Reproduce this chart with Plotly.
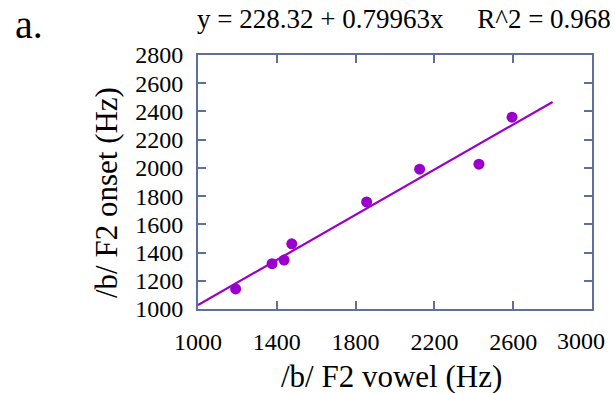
import plotly.graph_objects as go

# /b/ F2 at vowel midpoint vs. F2 at onset (Hz)
f2_vowel = [1191, 1376, 1437, 1476, 1856, 2125, 2426, 2594]
f2_onset = [1142, 1321, 1347, 1462, 1759, 1991, 2026, 2359]

# fitted locus equation
intercept = 228.32
slope = 0.79963
r_squared = 0.968
fit_x = [1000, 2800]
fit_y = [intercept + slope * v for v in fit_x]

x_ticks = [1000, 1400, 1800, 2200, 2600, 3000]
x_tick_text = ["1000", "1400", "1800", "2200", "2600", ""]
x_last_label = "3000"  # pulled inward so it stays on the page
y_ticks = [1000, 1200, 1400, 1600, 1800, 2000, 2200, 2400, 2600, 2800]

purple = "#9a00cc"
frame = "#5d6f9b"
serif = "Liberation Serif, Times New Roman, serif"

fig = go.Figure()
fig.add_trace(go.Scatter(x=fit_x, y=fit_y, mode="lines",
                         line=dict(color=purple, width=2.2), hoverinfo="skip"))
fig.add_trace(go.Scatter(x=f2_vowel, y=f2_onset, mode="markers",
                         marker=dict(color=purple, size=11)))

axis_common = dict(
    showline=True, linecolor=frame, linewidth=2, mirror="allticks",
    ticks="inside", ticklen=8, tickwidth=2, tickcolor=frame,
    showgrid=False, zeroline=False, automargin=False,
    tickfont=dict(family=serif, size=24, color="black"),
)
fig.update_xaxes(range=[1000, 3000], tickvals=x_ticks, ticktext=x_tick_text,
                 ticklabelstandoff=10, **axis_common)
fig.update_yaxes(range=[1000, 2800], tickvals=y_ticks, ticklabelstandoff=8, **axis_common)

sp = "\u00a0"
fig.update_layout(
    width=615, height=393,
    margin=dict(l=198, r=23, t=55, b=84),
    plot_bgcolor="white", paper_bgcolor="white",
    showlegend=False,
    annotations=[
        dict(text=x_last_label, xref="x", yref="paper",
             x=x_ticks[-1], y=-(341 - 309) / 254, xshift=-11,
             xanchor="center", yanchor="middle", showarrow=False,
             font=dict(family=serif, size=24, color="black")),
        dict(text="/b/ F2 vowel (Hz)", xref="paper", yref="paper",
             x=(391 - 198) / 394, y=-(376 - 309) / 254,
             xanchor="center", yanchor="middle", showarrow=False,
             font=dict(family=serif, size=31, color="black")),
        dict(text="/b/ F2 onset (Hz)", xref="paper", yref="paper",
             x=-(198 - 107) / 394, y=(309 - 193) / 254, textangle=-90,
             xanchor="center", yanchor="middle", showarrow=False,
             font=dict(family=serif, size=31, color="black")),
        dict(text=f"y = {intercept} + {slope}x{sp*5}R^2 = {r_squared}",
             xref="paper", yref="paper",
             x=(404 - 198) / 394, y=(309 - 19) / 254,
             xanchor="center", yanchor="middle", showarrow=False,
             font=dict(family=serif, size=27, color="black")),
        dict(text="a.", xref="paper", yref="paper",
             x=(13 - 198) / 394, y=(309 - 24) / 254,
             xanchor="left", yanchor="middle", showarrow=False,
             font=dict(family=serif, size=40, color="black")),
    ],
)

fig.write_html("out.html")
